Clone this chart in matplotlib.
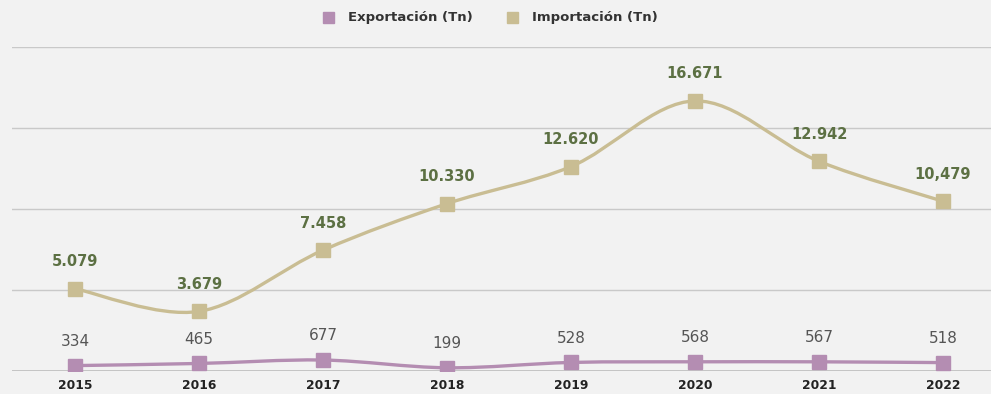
import matplotlib
matplotlib.use("Agg")
import matplotlib.pyplot as plt
from matplotlib.path import Path
from matplotlib.patches import PathPatch
import numpy as np

years = ["2015", "2016", "2017", "2018", "2019", "2020", "2021", "2022"]
exportacion = [334, 465, 677, 199, 528, 568, 567, 518]
importacion = [5079, 3679, 7458, 10330, 12620, 16671, 12942, 10479]
export_labels = ["334", "465", "677", "199", "528", "568", "567", "518"]
import_labels = ["5.079", "3.679", "7.458", "10.330", "12.620", "16.671", "12.942", "10,479"]

BG = "#f2f2f2"
EXP_COLOR = "#b48db2"
IMP_COLOR = "#c9bd93"
EXP_TEXT = "#555555"
IMP_TEXT = "#5c7043"


def smooth_path(xs, ys, tension=0.5):
    """Catmull-Rom style cubic Bezier path through the points."""
    pts = np.column_stack([xs, ys]).astype(float)
    n = len(pts)
    verts = [pts[0]]
    codes = [Path.MOVETO]
    for i in range(n - 1):
        p0 = pts[i - 1] if i > 0 else pts[i]
        p1 = pts[i]
        p2 = pts[i + 1]
        p3 = pts[i + 2] if i + 2 < n else pts[i + 1]
        c1 = p1 + (p2 - p0) * tension / 3.0
        c2 = p2 - (p3 - p1) * tension / 3.0
        verts += [c1, c2, p2]
        codes += [Path.CURVE4] * 3
    return Path(verts, codes)


fig = plt.figure(figsize=(9.91, 3.94), dpi=100, facecolor=BG)
ax = fig.add_axes([12 / 991, 23 / 394, 979 / 991, 324 / 394])
ax.set_facecolor(BG)

x = np.arange(len(years))
ax.set_xlim(-0.508, 7.387)
ax.set_ylim(0, 20000)

for yv in [5000, 10000, 15000, 20000]:
    ax.axhline(yv, color="#c9c9c9", lw=1.0, zorder=1)
ax.axhline(0, color="#bdbdbd", lw=1.2, zorder=1)

for vals, color in [(importacion, IMP_COLOR), (exportacion, EXP_COLOR)]:
    patch = PathPatch(smooth_path(x, vals, tension=0.5), facecolor="none",
                      edgecolor=color, lw=2.4, capstyle="round", zorder=2)
    ax.add_patch(patch)
    ax.plot(x, vals, ls="none", marker="s", ms=10, color=color, zorder=3)

for xi, v, lab in zip(x, importacion, import_labels):
    ax.annotate(lab, (xi, v), xytext=(0, 14), textcoords="offset points",
                ha="center", va="bottom", fontsize=10.5, color=IMP_TEXT,
                fontweight="semibold", zorder=4)
for xi, v, lab in zip(x, exportacion, export_labels):
    ax.annotate(lab, (xi, v), xytext=(0, 12), textcoords="offset points",
                ha="center", va="bottom", fontsize=11, color=EXP_TEXT, zorder=4)

ax.set_xticks(x)
ax.set_xticklabels(years, fontsize=8.8, fontweight="bold", color="#222222")
ax.tick_params(axis="x", length=0, pad=6)
ax.set_yticks([])
for s in ax.spines.values():
    s.set_visible(False)

# legend
fig.patches.append(plt.Rectangle((323 / 991, 1 - 23 / 394), 11 / 991, 11 / 394,
                                 transform=fig.transFigure, color=EXP_COLOR))
fig.text(348 / 991, 1 - 17.5 / 394, "Exportación (Tn)", fontsize=9.5,
         fontweight="bold", color="#333333", va="center", ha="left")
fig.patches.append(plt.Rectangle((507 / 991, 1 - 23 / 394), 11 / 991, 11 / 394,
                                 transform=fig.transFigure, color=IMP_COLOR))
fig.text(532 / 991, 1 - 17.5 / 394, "Importación (Tn)", fontsize=9.5,
         fontweight="bold", color="#333333", va="center", ha="left")

fig.savefig("out.png", dpi=100, facecolor=BG)
